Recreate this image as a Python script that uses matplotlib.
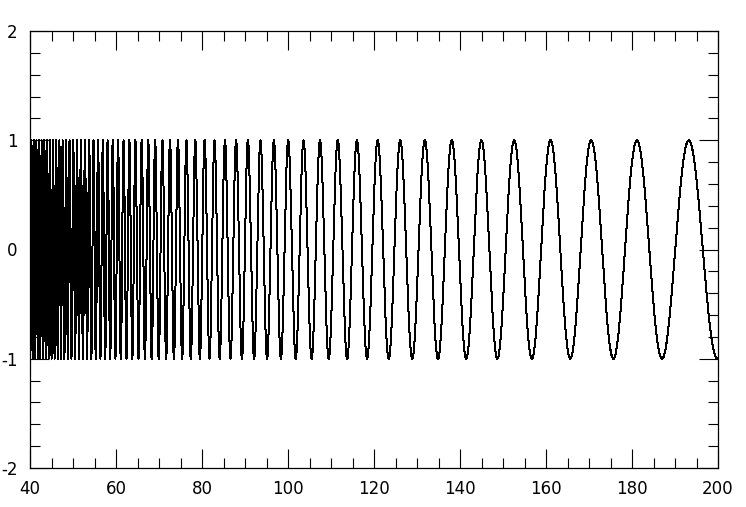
import matplotlib
matplotlib.use('Agg')
import matplotlib.pyplot as plt
import numpy as np
from matplotlib.ticker import MultipleLocator

# peak positions (right part, where they can be resolved)
peak_x = [103.7, 107.4, 111.6, 116.0, 120.9, 126.0, 131.7, 138.1,
          145.0, 152.6, 161.1, 170.5, 181.2, 193.3]
x_range = [40, 200]
y_range = [-2, 2]
x_ticks = [40, 60, 80, 100, 120, 140, 160, 180, 200]
x_labels = ['40', '60', '80', '100', '120', '140', '160', '180', '200']
y_ticks = [-2, -1, 0, 1, 2]
y_labels = ['-2', '-1', '0', '1', '2']

plt.rcParams['font.family'] = 'DejaVu Sans'
plt.rcParams['axes.unicode_minus'] = False

fig = plt.figure(figsize=(7.46, 5.07), dpi=100)
ax = fig.add_axes([30 / 746, 39 / 507, 688 / 746, 437 / 507])

# chirp: the peaks are evenly spaced in 1/x
k = np.arange(len(peak_x))[::-1]
b, a = np.polyfit(k, 1.0 / np.array(peak_x), 1)
x = np.linspace(x_range[0], x_range[1], 12001)
y = np.cos(2 * np.pi * (1.0 / x - a) / b)
ax.plot(x, y, color='black', lw=0.72, antialiased=False)

ax.set_xlim(x_range)
ax.set_ylim(y_range)
ax.set_xticks(x_ticks, x_labels)
ax.set_yticks(y_ticks, y_labels)
ax.xaxis.set_minor_locator(MultipleLocator(5))
ax.yaxis.set_minor_locator(MultipleLocator(0.2))

ax.tick_params(which='both', direction='in', top=True, right=True,
               width=0.8, color='black', labelsize=12)
ax.tick_params(which='major', length=13.5)
ax.tick_params(which='minor', length=7)
ax.tick_params(axis='x', which='major', pad=9)
ax.tick_params(axis='y', which='major', pad=9)
for s in ax.spines.values():
    s.set_linewidth(0.9)

fig.savefig('out.png', dpi=100)
